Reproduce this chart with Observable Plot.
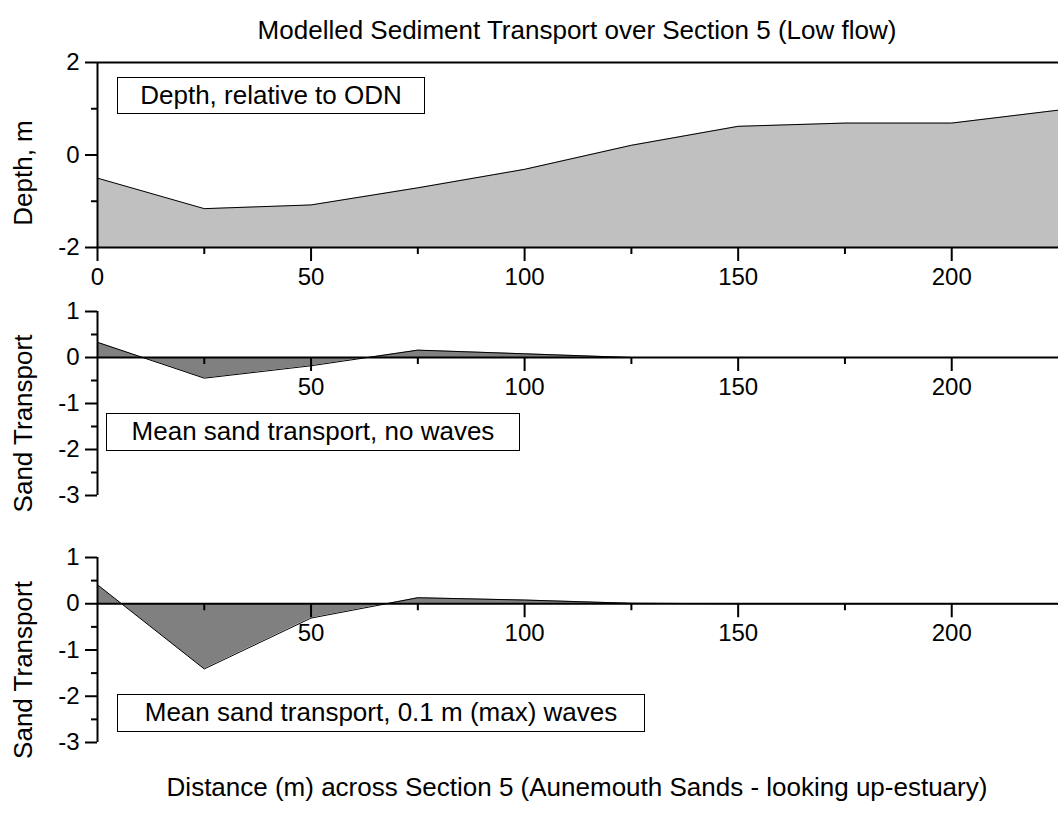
<!DOCTYPE html>
<html>
<head>
<meta charset="utf-8">
<script src="https://cdn.jsdelivr.net/npm/d3@7"></script>
<script src="https://cdn.jsdelivr.net/npm/@observablehq/plot@0.6"></script>
<style>
  body { margin: 0; background: #fff; }
  #chart { position: relative; width: 1058px; height: 816px; overflow: hidden;
           font-family: "Liberation Sans", Arial, Helvetica, sans-serif; color: #000; }
  .panel { position: absolute; left: 0; }
  .panel svg { overflow: visible; }
  .heading { position: absolute; left: 96px; width: 962px; text-align: center;
             font-size: 26px; line-height: 30px; white-space: nowrap; }
  .note { position: absolute; box-sizing: border-box; border: 1.5px solid #000; background: #fff;
          font-size: 26px; text-align: center; white-space: nowrap; }
</style>
</head>
<body>
<div id="chart"></div>
<script>
// Cross-section stations (m) and the modelled values at each
const distance = [0, 25, 50, 75, 100, 125, 150, 175, 200, 225];
const depth = [-0.5, -1.16, -1.08, -0.71, -0.31, 0.21, 0.62, 0.69, 0.69, 0.97];
const transportNoWaves = [0.33, -0.45, -0.18, 0.16, 0.08, 0, 0, 0, 0, 0];
const transportWaves = [0.41, -1.41, -0.31, 0.13, 0.08, 0.01, 0, 0, 0, 0];

// Tick values
const xMajorTop = [0, 50, 100, 150, 200];
const xMajor = [50, 100, 150, 200];
const xMinor = [25, 75, 125, 175];
const depthMajor = [-2, 0, 2];
const depthMinor = [-1, 1];
const transportMajor = [1, 0, -1, -2, -3];
const transportMinor = [0.5, -0.5, -1.5, -2.5];

// Text
const titleText = "Modelled Sediment Transport over Section 5 (Low flow)";
const xLabelText = "Distance (m) across Section 5 (Aunemouth Sands - looking up-estuary)";
const depthLabel = "Depth, m";
const transportLabel = "Sand Transport";
const depthNote = "Depth, relative to ODN";
const noWavesNote = "Mean sand transport, no waves";
const wavesNote = "Mean sand transport, 0.1 m (max) waves";

const rows = (ys) => distance.map((x, i) => ({x, y: ys[i]}));
const depthRows = rows(depth);

const W = 1058;
const ML = 97;
const font = "Liberation Sans, Arial, sans-serif";
const plain = (d) => String(d);   // hyphen-minus for negative ticks
const blank = () => "";
const chart = document.getElementById("chart");

function place(node, top) {
  const wrap = document.createElement("div");
  wrap.className = "panel";
  wrap.style.top = top + "px";
  wrap.appendChild(node);
  chart.appendChild(wrap);
}

function addDiv(cls, text, style) {
  const d = document.createElement("div");
  d.className = cls;
  d.textContent = text;
  Object.assign(d.style, style);
  chart.appendChild(d);
}

// Depth profile panel
const depthPlot = Plot.plot({
  width: W, height: 300,
  marginLeft: ML, marginRight: 0, marginTop: 62, marginBottom: 53,
  style: {fontFamily: font, background: "transparent", overflow: "visible"},
  x: {domain: [0, 225]},
  y: {domain: [-2, 2]},
  marks: [
    Plot.areaY(depthRows, {x: "x", y1: -2, y2: "y", fill: "#c0c0c0"}),
    Plot.line(depthRows, {x: "x", y: "y", stroke: "#000", strokeWidth: 1}),
    Plot.ruleY([2], {stroke: "#000", strokeWidth: 2}),
    Plot.ruleY([-2], {stroke: "#000", strokeWidth: 2}),
    Plot.ruleX([0], {y1: -2, y2: 2, stroke: "#000", strokeWidth: 2}),
    Plot.axisY(depthMajor, {anchor: "left", tickSize: 12, tickPadding: 6, fontSize: 24, tickFormat: plain, strokeWidth: 2, label: null}),
    Plot.axisY(depthMinor, {anchor: "left", tickSize: 6, tickFormat: blank, strokeWidth: 2, label: null}),
    Plot.axisX(xMajorTop, {anchor: "bottom", tickSize: 14, tickPadding: 6, fontSize: 24, tickFormat: plain, strokeWidth: 2, label: null}),
    Plot.axisX(xMinor, {anchor: "bottom", tickSize: 7, tickFormat: blank, strokeWidth: 2, label: null}),
    Plot.text([depthLabel], {frameAnchor: "left", textAnchor: "middle", rotate: -90, dx: -74, dy: 18, fontSize: 26})
  ]
});

// Sand transport panel
function transportPlot(values, height, marginTop, marginBottom) {
  const data = rows(values);
  return Plot.plot({
    width: W, height,
    marginLeft: ML, marginRight: 0, marginTop, marginBottom,
    style: {fontFamily: font, background: "transparent", overflow: "visible"},
    x: {domain: [0, 225]},
    y: {domain: [-3, 1]},
    marks: [
      Plot.areaY(data, {x: "x", y: "y", fill: "#808080"}),
      Plot.line(data, {x: "x", y: "y", stroke: "#000", strokeWidth: 1}),
      Plot.ruleY([0], {stroke: "#000", strokeWidth: 2}),
      Plot.ruleX([0], {y1: -3, y2: 1, stroke: "#000", strokeWidth: 2}),
      Plot.axisY(transportMajor, {anchor: "left", tickSize: 12, tickPadding: 6, fontSize: 24, tickFormat: plain, strokeWidth: 2, label: null}),
      Plot.axisY(transportMinor, {anchor: "left", tickSize: 6, tickFormat: blank, strokeWidth: 2, label: null}),
      Plot.axisX(xMajor, {anchor: "bottom", y: 0, tickSize: 14, tickPadding: 6, fontSize: 24, tickFormat: plain, strokeWidth: 2, label: null}),
      Plot.axisX(xMinor, {anchor: "bottom", y: 0, tickSize: 7, tickFormat: blank, strokeWidth: 2, label: null}),
      Plot.text([transportLabel], {frameAnchor: "left", textAnchor: "middle", rotate: -90, dx: -74, dy: 20, fontSize: 26})
    ]
  });
}

addDiv("heading", titleText, {top: "15px"});
place(depthPlot, 0);
place(transportPlot(transportNoWaves, 220, 11, 25), 300);
place(transportPlot(transportWaves, 240, 37, 18), 520);
addDiv("heading", xLabelText, {top: "772px"});

addDiv("note", depthNote, {left: "117px", top: "77px", width: "308px", height: "37px", lineHeight: "34px"});
addDiv("note", noWavesNote, {left: "106px", top: "413px", width: "414px", height: "38px", lineHeight: "35px"});
addDiv("note", wavesNote, {left: "117px", top: "694px", width: "528px", height: "38px", lineHeight: "35px"});
</script>
</body>
</html>
